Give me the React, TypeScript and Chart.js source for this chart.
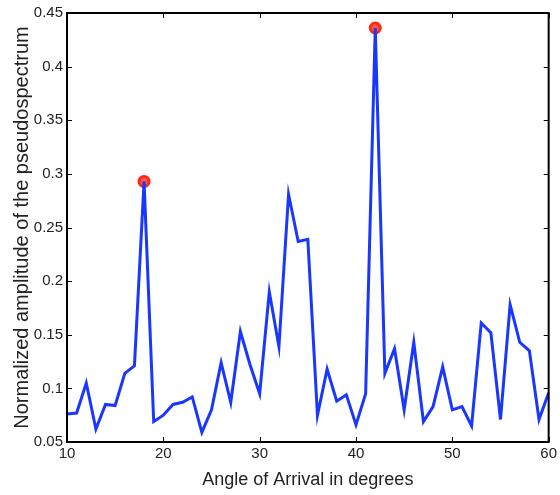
import React, { useEffect, useRef } from "react";
import { Chart, registerables } from "chart.js";

Chart.register(...registerables);

// Angle of arrival (degrees)
const angles = [
  10, 11, 12, 13, 14, 15, 16, 17, 18, 19,
  20, 21, 22, 23, 24, 25, 26, 27, 28, 29,
  30, 31, 32, 33, 34, 35, 36, 37, 38, 39,
  40, 41, 42, 43, 44, 45, 46, 47, 48, 49,
  50, 51, 52, 53, 54, 55, 56, 57, 58, 59,
  60,
];

// Normalized amplitude of the pseudospectrum
const amplitudes = [
  0.076, 0.077, 0.105, 0.062, 0.085, 0.084, 0.114, 0.121, 0.293, 0.069,
  0.075, 0.085, 0.087, 0.092, 0.059, 0.080, 0.124, 0.087, 0.153, 0.122,
  0.095, 0.190, 0.139, 0.281, 0.237, 0.239, 0.075, 0.118, 0.088, 0.094,
  0.066, 0.095, 0.436, 0.114, 0.137, 0.080, 0.143, 0.069, 0.083, 0.120,
  0.080, 0.083, 0.065, 0.161, 0.152, 0.071, 0.178, 0.143, 0.135, 0.071,
  0.096,
];

// Detected peaks (degrees)
const peakAngles = [18, 42];

const xTickValues = [10, 20, 30, 40, 50, 60];
const yTickValues = [0.05, 0.1, 0.15, 0.2, 0.25, 0.3, 0.35, 0.4, 0.45];

const FONT = "'Liberation Sans', Arial, Helvetica, sans-serif";

const boxPlugin = {
  id: "matlabBox",
  afterDatasetsDraw(chart: any) {
    const { ctx, chartArea: a, scales } = chart;
    const L = 5;
    ctx.save();
    ctx.strokeStyle = "#000";
    ctx.lineWidth = 1;
    ctx.beginPath();
    scales.x.ticks.forEach((t: any) => {
      const px = Math.round(scales.x.getPixelForValue(t.value)) + 0.5;
      ctx.moveTo(px, a.bottom);
      ctx.lineTo(px, a.bottom - L);
      ctx.moveTo(px, a.top);
      ctx.lineTo(px, a.top + L);
    });
    scales.y.ticks.forEach((t: any) => {
      const py = Math.round(scales.y.getPixelForValue(t.value)) + 0.5;
      ctx.moveTo(a.left, py);
      ctx.lineTo(a.left + L, py);
      ctx.moveTo(a.right, py);
      ctx.lineTo(a.right - L, py);
    });
    ctx.stroke();
    ctx.lineWidth = 2;
    ctx.strokeRect(a.left, a.top, a.right - a.left, a.bottom - a.top);
    ctx.restore();
  },
};

export default function App() {
  const canvasRef = useRef<HTMLCanvasElement | null>(null);

  useEffect(() => {
    if (!canvasRef.current) return;
    const lineData = angles.map((x, i) => ({ x, y: amplitudes[i] }));
    const peakData = peakAngles.map((x) => ({
      x,
      y: amplitudes[angles.indexOf(x)],
    }));

    const chart = new Chart(canvasRef.current, {
      type: "line",
      data: {
        datasets: [
          {
            label: "Pseudospectrum",
            data: lineData,
            borderColor: "rgb(25, 55, 255)",
            borderWidth: 3,
            pointRadius: 0,
            fill: false,
            tension: 0,
            order: 0,
          },
          {
            label: "Peaks",
            data: peakData,
            showLine: false,
            pointRadius: 5,
            pointBorderWidth: 3,
            pointBorderColor: "rgb(255, 40, 20)",
            pointBackgroundColor: "rgb(255, 90, 70)",
            order: 1,
          },
        ],
      },
      options: {
        responsive: false,
        animation: false,
        layout: { padding: { left: 0, right: 9, top: 8, bottom: 0 } },
        plugins: {
          legend: { display: false },
          tooltip: { enabled: false },
        },
        scales: {
          x: {
            type: "linear",
            min: 10,
            max: 60,
            afterBuildTicks: (scale: any) => {
              scale.ticks = xTickValues.map((v) => ({ value: v }));
            },
            afterFit: (scale: any) => {
              scale.height = 53;
            },
            grid: { display: false, drawTicks: false },
            border: { display: false },
            ticks: {
              color: "#222",
              font: { family: FONT, size: 15 },
              padding: 3,
              maxRotation: 0,
              callback: (v: any) => String(v),
            },
            title: {
              display: true,
              text: "Angle of Arrival in degrees",
              color: "#222",
              font: { family: FONT, size: 18 },
              padding: { top: 0, bottom: 4 },
            },
          },
          y: {
            type: "linear",
            min: 0.05,
            max: 0.45,
            afterBuildTicks: (scale: any) => {
              scale.ticks = yTickValues.map((v) => ({ value: v }));
            },
            afterFit: (scale: any) => {
              scale.width = 67;
            },
            grid: { display: false, drawTicks: false },
            border: { display: false },
            ticks: {
              color: "#222",
              font: { family: FONT, size: 15 },
              padding: 4,
              callback: (v: any) => String(Number(Number(v).toFixed(2))),
            },
            title: {
              display: true,
              text: "Normalized amplitude of the pseudospectrum",
              color: "#222",
              font: { family: FONT, size: 20 },
              padding: { top: 10, bottom: 0 },
            },
          },
        },
      },
      plugins: [boxPlugin],
    });

    return () => chart.destroy();
  }, []);

  return (
    <div
      style={{
        position: "absolute",
        left: 0,
        top: 0,
        width: 560,
        height: 495,
        background: "#fff",
      }}
    >
      <canvas ref={canvasRef} width={560} height={495} />
    </div>
  );
}
